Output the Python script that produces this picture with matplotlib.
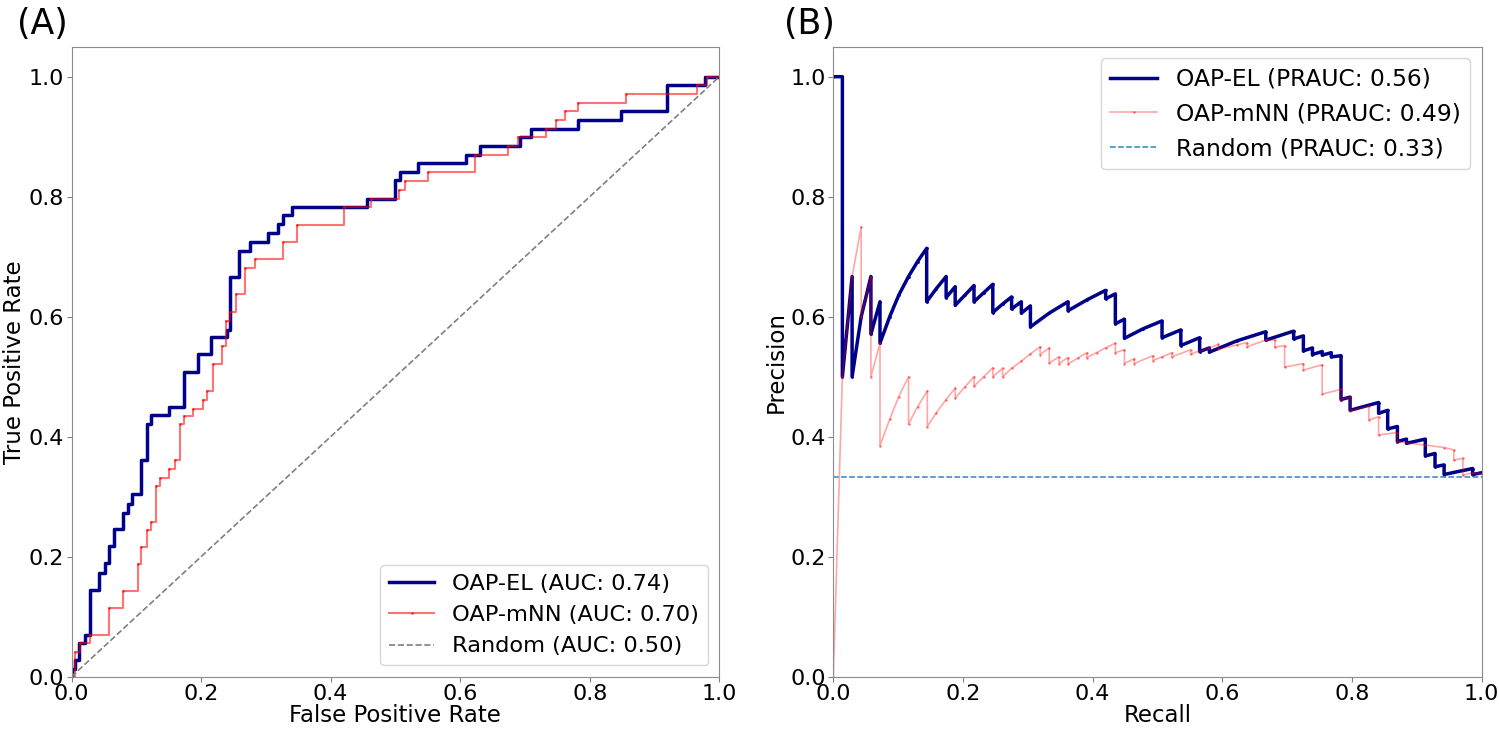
import matplotlib.pyplot as plt

# ROC curves: fpr at each rise, tpr reached after the rise
el_fpr = [0, 0, 0.005, 0.011, 0.021, 0.028, 0.043, 0.052, 0.058, 0.065, 0.080, 0.087, 0.093,
          0.108, 0.116, 0.122, 0.151, 0.173, 0.195, 0.216, 0.240, 0.245, 0.259, 0.275, 0.304,
          0.318, 0.326, 0.340, 0.456, 0.499, 0.507, 0.535, 0.609, 0.631, 0.693, 0.709, 0.782,
          0.848, 0.920, 0.978, 1.0]
el_tpr = [0, 0.013, 0.028, 0.056, 0.069, 0.144, 0.173, 0.189, 0.218, 0.247, 0.273, 0.288, 0.304,
          0.362, 0.421, 0.436, 0.449, 0.508, 0.538, 0.566, 0.578, 0.667, 0.710, 0.725, 0.740,
          0.754, 0.770, 0.783, 0.797, 0.828, 0.842, 0.856, 0.870, 0.884, 0.899, 0.913, 0.928,
          0.943, 0.987, 1.0, 1.0]

nn_fpr = [0, 0.005, 0.013, 0.029, 0.058, 0.080, 0.102, 0.108, 0.116, 0.122, 0.131, 0.137, 0.151,
          0.160, 0.167, 0.174, 0.188, 0.203, 0.209, 0.218, 0.232, 0.239, 0.245, 0.254, 0.268,
          0.283, 0.326, 0.348, 0.420, 0.463, 0.505, 0.515, 0.551, 0.623, 0.674, 0.689, 0.733,
          0.748, 0.762, 0.782, 0.856, 0.965, 0.981, 1.0]
nn_tpr = [0, 0.042, 0.056, 0.069, 0.114, 0.143, 0.188, 0.217, 0.244, 0.258, 0.318, 0.332, 0.346,
          0.361, 0.421, 0.434, 0.447, 0.462, 0.477, 0.522, 0.551, 0.593, 0.608, 0.638, 0.681,
          0.696, 0.725, 0.753, 0.783, 0.797, 0.811, 0.827, 0.841, 0.870, 0.884, 0.899, 0.913,
          0.928, 0.943, 0.957, 0.972, 0.987, 1.0, 1.0]

# PR curves
el_rec = [0.000, 0.014, 0.014, 0.029, 0.029, 0.043, 0.058, 0.058, 0.072, 0.072,
          0.087, 0.101, 0.116, 0.130, 0.144, 0.144, 0.159, 0.174, 0.174, 0.188,
          0.188, 0.203, 0.217, 0.217, 0.232, 0.246, 0.246, 0.261, 0.275, 0.275,
          0.290, 0.290, 0.304, 0.304, 0.333, 0.362, 0.362, 0.391, 0.420, 0.420,
          0.435, 0.435, 0.449, 0.449, 0.478, 0.507, 0.507, 0.536, 0.536, 0.565,
          0.565, 0.580, 0.580, 0.623, 0.667, 0.667, 0.710, 0.710, 0.725, 0.725,
          0.739, 0.739, 0.754, 0.754, 0.768, 0.768, 0.783, 0.783, 0.797, 0.797,
          0.841, 0.841, 0.855, 0.855, 0.870, 0.870, 0.884, 0.884, 0.913, 0.913,
          0.928, 0.928, 0.942, 0.942, 0.986, 0.986, 1.000]
el_prec = [1.000, 1.000, 0.500, 0.667, 0.500, 0.600, 0.667, 0.571, 0.625, 0.556,
           0.600, 0.636, 0.667, 0.692, 0.714, 0.625, 0.647, 0.667, 0.632, 0.650,
           0.619, 0.636, 0.652, 0.625, 0.640, 0.654, 0.607, 0.621, 0.633, 0.613,
           0.625, 0.606, 0.618, 0.583, 0.606, 0.625, 0.610, 0.628, 0.644, 0.630,
           0.638, 0.588, 0.596, 0.564, 0.580, 0.593, 0.565, 0.578, 0.552, 0.565,
           0.542, 0.548, 0.541, 0.560, 0.575, 0.561, 0.576, 0.563, 0.568, 0.543,
           0.548, 0.537, 0.542, 0.536, 0.540, 0.533, 0.535, 0.462, 0.466, 0.444,
           0.457, 0.439, 0.444, 0.413, 0.417, 0.392, 0.396, 0.389, 0.396, 0.368,
           0.372, 0.350, 0.353, 0.337, 0.347, 0.337, 0.340]

nn_rec = [0.000, 0.014, 0.029, 0.043, 0.043, 0.058, 0.058, 0.072, 0.072, 0.087,
          0.101, 0.116, 0.116, 0.130, 0.145, 0.145, 0.159, 0.174, 0.188, 0.188,
          0.203, 0.217, 0.217, 0.232, 0.246, 0.246, 0.261, 0.261, 0.275, 0.290,
          0.304, 0.319, 0.319, 0.333, 0.333, 0.348, 0.348, 0.362, 0.362, 0.377,
          0.391, 0.391, 0.406, 0.420, 0.435, 0.435, 0.449, 0.449, 0.464, 0.464,
          0.493, 0.493, 0.507, 0.522, 0.522, 0.551, 0.551, 0.580, 0.594, 0.594,
          0.623, 0.638, 0.638, 0.667, 0.681, 0.681, 0.696, 0.696, 0.725, 0.725,
          0.754, 0.754, 0.783, 0.783, 0.797, 0.797, 0.826, 0.826, 0.841, 0.841,
          0.870, 0.870, 0.913, 0.942, 0.957, 0.957, 0.971, 0.971, 0.986, 1.000]
nn_prec = [0.000, 0.500, 0.667, 0.750, 0.600, 0.667, 0.500, 0.556, 0.385, 0.429,
           0.467, 0.500, 0.421, 0.450, 0.476, 0.417, 0.440, 0.462, 0.481, 0.464,
           0.483, 0.500, 0.484, 0.500, 0.515, 0.500, 0.514, 0.500, 0.514, 0.526,
           0.538, 0.550, 0.537, 0.548, 0.523, 0.533, 0.522, 0.532, 0.521, 0.531,
           0.540, 0.532, 0.540, 0.548, 0.556, 0.540, 0.545, 0.522, 0.530, 0.522,
           0.535, 0.527, 0.533, 0.540, 0.533, 0.545, 0.538, 0.548, 0.554, 0.546,
           0.553, 0.557, 0.550, 0.561, 0.561, 0.549, 0.552, 0.516, 0.522, 0.511,
           0.520, 0.471, 0.479, 0.462, 0.466, 0.443, 0.451, 0.428, 0.433, 0.403,
           0.407, 0.392, 0.386, 0.382, 0.378, 0.361, 0.364, 0.336, 0.340, 0.338]

auc = {'OAP-EL': 0.74, 'OAP-mNN': 0.70, 'Random': 0.50}
prauc = {'OAP-EL': 0.56, 'OAP-mNN': 0.49, 'Random': 0.33}
baseline = 0.333

W, H = 1499, 729
fig = plt.figure(figsize=(W / 100, H / 100), dpi=100)
ax1 = fig.add_axes([71.5 / W, 1 - 676.7 / H, 647.8 / W, 630 / H])
ax2 = fig.add_axes([833.3 / W, 1 - 676.7 / H, 648.4 / W, 630 / H])

blue = '#00008b'

ax1.plot(el_fpr, el_tpr, drawstyle='steps-post', color=blue, lw=2.5, marker='.', ms=2,
         label=f"OAP-EL (AUC: {auc['OAP-EL']:.2f})")
ax1.plot(nn_fpr, nn_tpr, drawstyle='steps-post', color='red', alpha=0.55, lw=1.5, marker='.', ms=2,
         label=f"OAP-mNN (AUC: {auc['OAP-mNN']:.2f})")
ax1.plot([0, 1], [0, 1], '--', color='gray', lw=1.2,
         label=f"Random (AUC: {auc['Random']:.2f})")
ax1.set_xlabel('False Positive Rate', fontsize=16.5, labelpad=0)
ax1.set_ylabel('True Positive Rate', fontsize=16.5, labelpad=2)
ax1.legend(loc='lower right', fontsize=16.2)

ax2.plot(el_rec, el_prec, color=blue, lw=2.5, marker='.', ms=2,
         label=f"OAP-EL (PRAUC: {prauc['OAP-EL']:.2f})")
ax2.plot(nn_rec, nn_prec, color='red', alpha=0.35, lw=1.2, marker='.', ms=2,
         label=f"OAP-mNN (PRAUC: {prauc['OAP-mNN']:.2f})")
ax2.plot([0, 1], [baseline, baseline], '--', color='#2e86c8', lw=1.1,
         label=f"Random (PRAUC: {prauc['Random']:.2f})")
ax2.set_xlabel('Recall', fontsize=16.5, labelpad=0)
ax2.set_ylabel('Precision', fontsize=16.5, labelpad=2)
ax2.legend(loc='upper right', fontsize=16.8)

for ax in (ax1, ax2):
    ax.set_xlim(0, 1)
    ax.set_ylim(0, 1.05)
    ax.set_xticks([0, 0.2, 0.4, 0.6, 0.8, 1.0])
    ax.set_yticks([0, 0.2, 0.4, 0.6, 0.8, 1.0])
    ax.tick_params(labelsize=16, color='0.5', pad=2)
    for s in ax.spines.values():
        s.set_color('0.55')

fig.text(42 / W, 1 - 24 / H, '(A)', fontsize=25, ha='center', va='center')
fig.text(809 / W, 1 - 24 / H, '(B)', fontsize=25, ha='center', va='center')

fig.savefig('out.png', dpi=100)
